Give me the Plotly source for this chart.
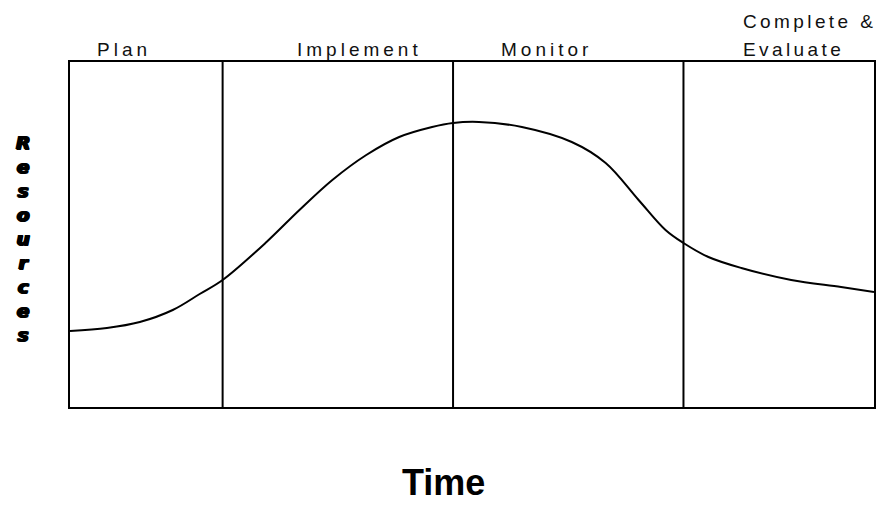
import plotly.graph_objects as go

# Time (x) and resource level (y)
time_pts = [0, 37, 70, 103, 130, 153, 197, 230, 263, 297, 330, 363, 384, 410,
            453, 503, 537, 570, 597, 615, 640, 673, 723, 773, 806]
resources = [76, 79, 85, 97, 113, 127, 165, 197, 227, 252, 270, 280, 284, 285,
             280, 265, 244, 207, 177, 164, 150, 139, 127, 120, 115]

phase_bounds = [153, 384, 615]
phase_labels = ["Plan", "Implement", "Monitor", "Complete &amp;", "Evaluate"]
x_range = [0, 806]
y_range = [0, 345]

fig = go.Figure()
fig.add_trace(go.Scatter(x=time_pts, y=resources, mode="lines",
                         line=dict(color="black", width=2, shape="spline", smoothing=1.0),
                         hoverinfo="skip", showlegend=False))

for b in phase_bounds:
    fig.add_shape(type="line", xref="x", yref="paper", x0=b, x1=b, y0=0, y1=1,
                  line=dict(color="black", width=2))

W, H = 880, 505
L, R, T, B = 70, 4, 62, 98
ph = H - T - B
pw = W - L - R

def py(ypix):
    return 1 + (T - ypix) / ph

def px(xpix):
    return (xpix - L) / pw

lab_font = dict(family="Liberation Sans, Arial, sans-serif", size=19, color="#111")

label_pos = [(124, 50, "center", 4), (360, 50, "center", 4), (548, 50, "center", 4),
             (743, 21, "left", 3.4), (743, 50, "left", 3.4)]
for txt, (xp, yp, anc, sp) in zip(phase_labels, label_pos):
    fig.add_annotation(text='<span style="letter-spacing:%spx">%s</span>' % (sp, txt),
                       x=px(xp), y=py(yp), xref="paper", yref="paper",
                       showarrow=False, xanchor=anc, yanchor="middle", font=lab_font)

fig.add_annotation(text="<b>Time</b>", x=px(444), y=py(482), xref="paper", yref="paper",
                   showarrow=False, xanchor="center", yanchor="middle",
                   font=dict(family="Liberation Sans, Arial, sans-serif", size=36, color="black"))

fig.add_annotation(text="<b><i>" + "<br>".join(list("Resources")) + "</i></b>",
                   x=px(23), y=py(238), xref="paper", yref="paper",
                   showarrow=False, xanchor="center", yanchor="middle",
                   font=dict(family="DejaVu Sans, sans-serif", size=18.5, color="black",
                             shadow="1px 0px 0px black, -1px 0px 0px black, 0px 1px 0px black, 1px 1px 0px black"))

fig.update_xaxes(range=x_range, showgrid=False, zeroline=False, showticklabels=False,
                 ticks="", showline=True, mirror=True, linecolor="black", linewidth=2)
fig.update_yaxes(range=y_range, showgrid=False, zeroline=False, showticklabels=False,
                 ticks="", showline=True, mirror=True, linecolor="black", linewidth=2)

fig.update_layout(width=W, height=H, margin=dict(l=L, r=R, t=T, b=B),
                  plot_bgcolor="white", paper_bgcolor="white")

fig.write_html("out.html", config={"displayModeBar": False},
               post_script="document.body.style.margin='0px';")
